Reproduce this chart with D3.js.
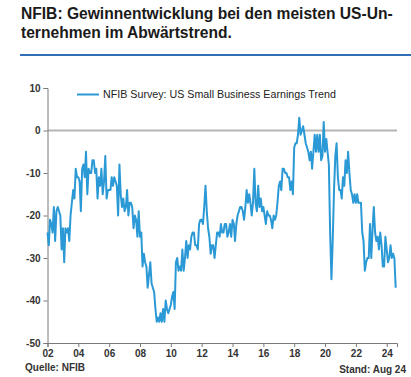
<!DOCTYPE html>
<html>
<head>
<meta charset="utf-8">
<script src="https://cdn.jsdelivr.net/npm/d3@7"></script>
<style>
  html, body { margin: 0; padding: 0; background: #fff; }
  svg { display: block; font-family: "Liberation Sans", Arial, sans-serif; }
</style>
</head>
<body>
<svg id="chart" width="411" height="377"></svg>
<script>
// ---- Data ----
const titleLines = ["NFIB: Gewinnentwicklung bei den meisten US-Un-", "ternehmen im Abwärtstrend."];
const seriesName = "NFIB Survey: US Small Business Earnings Trend";
const sourceText = "Quelle: NFIB";
const standText = "Stand: Aug 24";
const startYear = 2002;   // first observation: Jan 2002, monthly
const earnings = [
  // 2002
  -24, -27, -21, -22, -24, -18, -26, -19, -18, -19, -20, -28,
  // 2003
  -23, -31, -23, -24, -23, -26, -20, -17, -14, -16, -9, -11,
  // 2004
  -11, -12, -19, -9, -8, -11, -5, -15, -9, -10, -10, -7,
  // 2005
  -7, -10, -9, -16, -11, -13, -9, -15, -12, -6, -16, -14,
  // 2006
  -14, -14, -11, -13, -11, -12, -13, -20, -8, -15, -18, -16,
  // 2007
  -19, -18, -14, -20, -17, -17, -18, -23, -20, -21, -25, -19,
  // 2008
  -25, -24, -32, -29, -31, -32, -37, -34, -31, -36, -37, -38,
  // 2009
  -42, -45, -44, -45, -43, -45, -42, -45, -40, -42, -43, -42,
  // 2010
  -41, -39, -38, -42, -31, -30, -33, -32, -33, -28, -33, -30,
  // 2011
  -26, -30, -27, -28, -25, -24, -24, -27, -27, -28, -22, -21,
  // 2012
  -21, -22, -18, -13, -19, -23, -25, -29, -27, -27, -30, -27,
  // 2013
  -24, -24, -25, -22, -24, -24, -22, -22, -25, -24, -22, -25,
  // 2014
  -21, -22, -26, -22, -20, -19, -18, -18, -19, -21, -18, -14,
  // 2015
  -17, -15, -17, -20, -17, -9, -17, -19, -13, -18, -16, -19,
  // 2016
  -18, -20, -22, -19, -20, -20, -21, -23, -20, -21, -20, -17,
  // 2017
  -13, -12, -14, -9, -9, -10, -10, -11, -11, -14, -12, -15,
  // 2018
  -4, -3, -3, -1, 3, -1, 0, 1, -1, -3, -4, -5,
  // 2019
  -7, -5, -9, -5, -1, -5, -1, -5, -1, -7, -6, 2,
  // 2020
  -5, -2, -5, -8, -24, -35, -26, -14, -6, -3, -11, -14,
  // 2021
  -14, -16, -11, -13, -7, -10, -5, -10, -14, -15, -17, -15,
  // 2022
  -17, -15, -17, -17, -17, -24, -26, -33, -31, -30, -30, -22,
  // 2023
  -30, -23, -18, -24, -26, -25, -28, -24, -27, -32, -32, -25,
  // 2024
  -28, -31, -30, -27, -30, -29, -30, -37
];
const yTicks = [-50, -40, -30, -20, -10, 0, 10];
const xTickYears = [2002, 2004, 2006, 2008, 2010, 2012, 2014, 2016, 2018, 2020, 2022, 2024];

// ---- Chart ----
const svg = d3.select("#chart");
const data = earnings.map((v, i) => ({ date: new Date(startYear, i, 1), value: v }));

const x = d3.scaleTime()
  .domain([new Date(2002, 0, 1), new Date(2024, 8, 1)])
  .range([47.5, 397]);
const y = d3.scaleLinear().domain([-50, 10]).range([343, 88]);

// Title
svg.append("g").selectAll("text").data(titleLines).join("text")
  .attr("x", 21).attr("y", (d, i) => 19 + i * 18.5)
  .attr("font-size", 15.6).attr("font-weight", "bold").attr("fill", "#1a1a1a")
  .text(d => d);

svg.append("line").attr("x1", 20).attr("x2", 411).attr("y1", 55).attr("y2", 55)
  .attr("stroke", "#2f6fb8").attr("stroke-width", 2);

// zero line
svg.append("line").attr("x1", x.range()[0]).attr("x2", x.range()[1])
  .attr("y1", y(0)).attr("y2", y(0))
  .attr("stroke", "#b5b5b5").attr("stroke-width", 2);

// axes
const yAxis = svg.append("g").attr("transform", "translate(47.5,0)")
  .call(d3.axisLeft(y).tickValues(yTicks).tickSize(4).tickPadding(3).tickFormat(d3.format("d")));
const xAxis = svg.append("g").attr("transform", `translate(0,${y(-50)})`)
  .call(d3.axisBottom(x).tickValues(xTickYears.map(yy => new Date(yy, 0, 1)))
    .tickSize(4).tickPadding(3).tickFormat(d3.timeFormat("%y")));
[yAxis, xAxis].forEach(g => {
  g.select(".domain").attr("stroke", "#7a7a7a");
  g.selectAll(".tick line").attr("stroke", "#7a7a7a");
  g.selectAll(".tick text").attr("font-size", 10).attr("font-weight", "bold")
    .attr("fill", "#333").attr("font-family", "Liberation Sans, Arial, sans-serif");
});
yAxis.selectAll(".tick text").text(d => d < 0 ? "-" + Math.abs(d) : d);

// line
const line = d3.line().x(d => x(d.date)).y(d => y(d.value));
svg.append("path").datum(data)
  .attr("d", line).attr("fill", "none")
  .attr("stroke", "#2a99d5").attr("stroke-width", 2).attr("stroke-linejoin", "round");

// legend
svg.append("line").attr("x1", 77).attr("x2", 99).attr("y1", 94.5).attr("y2", 94.5)
  .attr("stroke", "#2a99d5").attr("stroke-width", 2);
svg.append("text").attr("x", 103).attr("y", 98).attr("font-size", 10.7)
  .attr("fill", "#222").text(seriesName);

// footer
svg.append("text").attr("x", 25).attr("y", 370.5).attr("font-size", 10)
  .attr("font-weight", "bold").attr("fill", "#333").text(sourceText);
svg.append("text").attr("x", 406).attr("y", 372.5).attr("font-size", 10)
  .attr("font-weight", "bold").attr("fill", "#333").attr("text-anchor", "end").text(standText);
</script>
</body>
</html>
